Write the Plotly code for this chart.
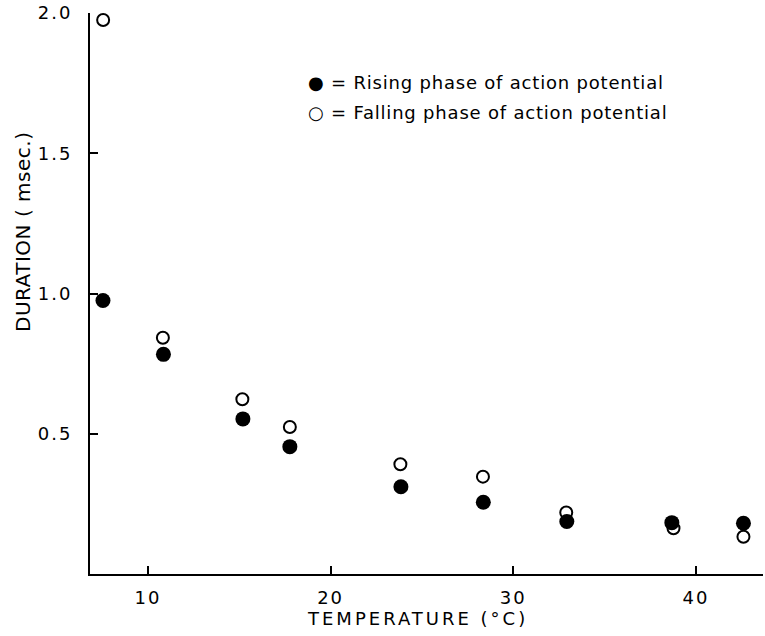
import plotly.graph_objects as go

# Data
temp_rising = [7.54, 10.85, 15.2, 17.77, 23.85, 28.36, 32.93, 38.68, 42.6]
dur_rising = [0.975, 0.783, 0.553, 0.454, 0.311, 0.256, 0.187, 0.183, 0.181]

temp_falling = [7.55, 10.82, 15.17, 17.77, 23.82, 28.34, 32.9, 38.77, 42.6]
dur_falling = [1.975, 0.842, 0.623, 0.524, 0.391, 0.347, 0.219, 0.163, 0.133]

x_ticks = [10, 20, 30, 40]
x_tick_labels = ["10", "20", "30", "40"]
y_ticks = [0.5, 1.0, 1.5, 2.0]
y_tick_labels = ["0.5", "1.0", "1.5", "2.0"]

legend_lines = ["● = Rising phase of action potential",
                "○ = Falling phase of action potential"]
x_title = "TEMPERATURE (°C)"
y_title = "DURATION ( msec.)"

FONT = "DejaVu Sans"


def spaced(t, px):
    return '<span style="letter-spacing:%spx">%s</span>' % (px, t)


fig = go.Figure()
fig.add_trace(go.Scatter(
    x=temp_falling, y=dur_falling, mode="markers",
    marker=dict(symbol="circle", size=12, color="white",
                line=dict(color="black", width=2)),
    name="Falling phase", showlegend=False))
fig.add_trace(go.Scatter(
    x=temp_rising, y=dur_rising, mode="markers",
    marker=dict(symbol="circle", size=15, color="black",
                line=dict(width=0)),
    name="Rising phase", showlegend=False))

L, R, T, B = 90, 763, 13, 574
PW, PH = R - L, B - T

for i, t in enumerate(legend_lines):
    fig.add_annotation(text=spaced(t, 0.8), xref="paper", yref="paper",
                       x=(306 - L) / PW, y=1 - ((83 + i * 29) - T) / PH,
                       xanchor="left", yanchor="middle", showarrow=False,
                       font=dict(family=FONT, size=18, color="black"))

# axis titles
fig.add_annotation(text=spaced(x_title, 3), xref="paper", yref="paper",
                   x=(417 - L) / PW, y=1 - (618 - T) / PH,
                   xanchor="center", yanchor="middle", showarrow=False,
                   font=dict(family=FONT, size=18, color="black"))
fig.add_annotation(text=spaced(y_title, 0.5), xref="paper", yref="paper",
                   x=(23 - L) / PW, y=1 - (232 - T) / PH, textangle=-90,
                   xanchor="center", yanchor="middle", showarrow=False,
                   font=dict(family=FONT, size=20, color="black"))

fig.update_layout(
    width=765, height=636,
    margin=dict(l=L, r=765 - R, t=T, b=636 - B),
    paper_bgcolor="white", plot_bgcolor="white",
    font=dict(family=FONT, size=18, color="black"),
    xaxis=dict(range=[6.83, 43.67], tickvals=x_ticks,
               ticktext=[spaced(s, 2) for s in x_tick_labels],
               showline=True, linecolor="black", linewidth=2,
               ticks="inside", ticklen=8, tickwidth=1.5, tickcolor="black",
               showgrid=False, zeroline=False,
               tickfont=dict(family=FONT, size=18),
               ticklabelstandoff=6),
    yaxis=dict(range=[0, 2.0], tickvals=y_ticks,
               ticktext=[spaced(s, 2) for s in y_tick_labels],
               showline=True, linecolor="black", linewidth=2,
               ticks="inside", ticklen=8, tickwidth=1.5, tickcolor="black",
               showgrid=False, zeroline=False,
               tickfont=dict(family=FONT, size=18),
               ticklabelstandoff=12),
)

fig.write_html("out.html")
